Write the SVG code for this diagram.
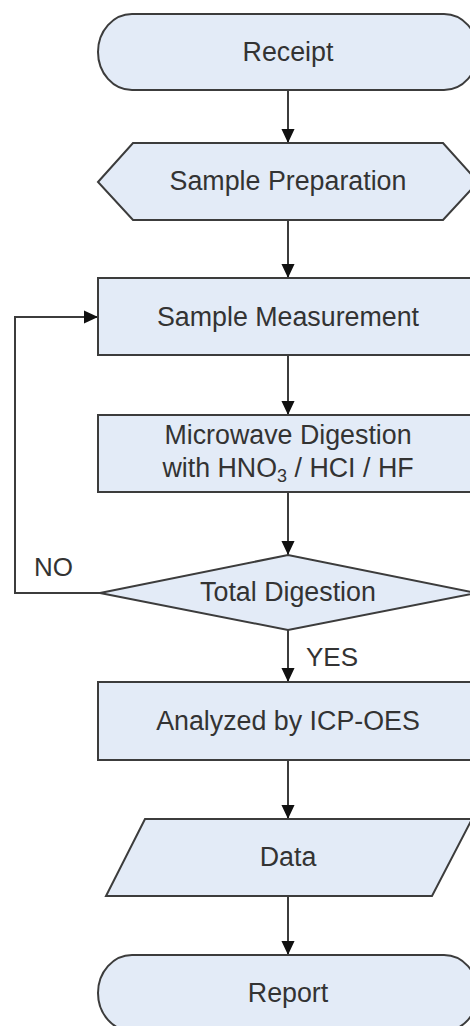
<svg xmlns="http://www.w3.org/2000/svg" width="470" height="1026" viewBox="0 0 470 1026">
<defs>
<style>
.shape{fill:#e3ebf7;stroke:#3c3c3c;stroke-width:2}
.lbl{font-family:"Liberation Sans",Arial,sans-serif;font-size:26.8px;fill:#333;text-anchor:middle}
.side{font-family:"Liberation Sans",Arial,sans-serif;font-size:26px;fill:#333}
.conn{fill:none;stroke:#3c3c3c;stroke-width:2}
</style>
<marker id="arr" markerUnits="userSpaceOnUse" markerWidth="14" markerHeight="17" viewBox="0 0 15 14" refX="15" refY="7" orient="auto">
<path d="M0,0 L15,7 L0,14 Z" fill="#111"/>
</marker>
</defs>
<rect width="470" height="1026" fill="#ffffff"/>
<g id="connectors">
<line class="conn" x1="288" y1="90" x2="288" y2="143" marker-end="url(#arr)"/>
<line class="conn" x1="288" y1="220" x2="288" y2="278" marker-end="url(#arr)"/>
<line class="conn" x1="288" y1="355" x2="288" y2="415" marker-end="url(#arr)"/>
<line class="conn" x1="288" y1="492" x2="288" y2="555" marker-end="url(#arr)"/>
<polyline class="conn" points="100,593 15,593 15,317 98,317" marker-end="url(#arr)"/>
<line class="conn" x1="288" y1="630" x2="288" y2="682" marker-end="url(#arr)"/>
<line class="conn" x1="288" y1="760" x2="288" y2="819" marker-end="url(#arr)"/>
<line class="conn" x1="288" y1="896" x2="288" y2="955" marker-end="url(#arr)"/>
<text class="side" x="34" y="576">NO</text>
<text class="side" x="306" y="666">YES</text>
</g>
<g id="receipt">
<rect class="shape" x="98" y="14" width="380" height="76" rx="34" ry="38"/>
<text class="lbl" x="288" y="61">Receipt</text>
</g>
<g id="sample-preparation">
<polygon class="shape" points="98,182 133,143 443,143 478,182 443,220 133,220"/>
<text class="lbl" x="288" y="190">Sample Preparation</text>
</g>
<g id="sample-measurement">
<rect class="shape" x="98" y="278" width="380" height="77"/>
<text class="lbl" x="288" y="326">Sample Measurement</text>
</g>
<g id="microwave-digestion">
<rect class="shape" x="98" y="415" width="380" height="77"/>
<text class="lbl" x="288" y="444">Microwave Digestion</text>
<text class="lbl" x="288" y="477">with HNO<tspan font-size="18" dy="5">3</tspan><tspan dy="-5"> / HCI / HF</tspan></text>
</g>
<g id="total-digestion">
<polygon class="shape" points="100,593 288,555 476,593 288,630"/>
<text class="lbl" x="288" y="601">Total Digestion</text>
</g>
<g id="icp-oes">
<rect class="shape" x="98" y="682" width="380" height="78"/>
<text class="lbl" x="288" y="730">Analyzed by ICP-OES</text>
</g>
<g id="data">
<polygon class="shape" points="145,819 472,819 432,896 106,896"/>
<text class="lbl" x="288" y="866">Data</text>
</g>
<g id="report">
<rect class="shape" x="98" y="955" width="380" height="76" rx="34" ry="38"/>
<text class="lbl" x="288" y="1002">Report</text>
</g>
</svg>
